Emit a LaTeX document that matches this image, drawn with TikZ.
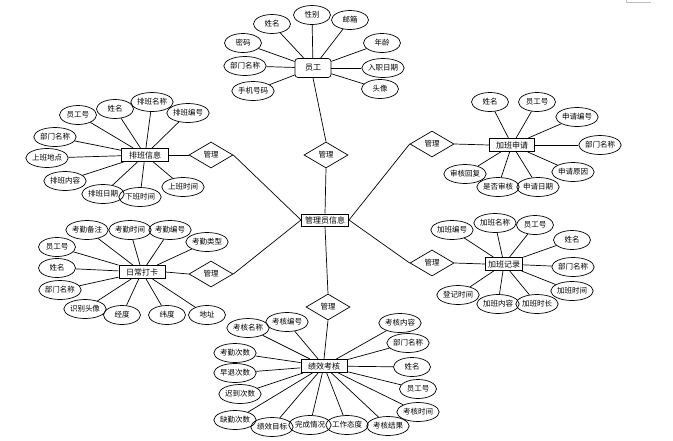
\documentclass[tikz,border=0pt]{standalone}
\usepackage{fontspec}
\setmainfont{Noto Sans CJK SC}
\usetikzlibrary{shapes.geometric}
\begin{document}
\begin{tikzpicture}[x=1pt,y=-1pt,
  attr/.style={ellipse,draw,line width=0.7pt,minimum width=37pt,minimum height=19pt,inner sep=0pt,font=\fontsize{7.5}{8}\selectfont},
  ent/.style={rectangle,draw,line width=1pt,minimum height=13pt,inner sep=1.5pt,font=\fontsize{8}{9}\selectfont},
  rel/.style={diamond,draw,line width=0.7pt,minimum width=44pt,minimum height=26pt,inner sep=0pt,font=\fontsize{7.5}{8}\selectfont},
  ln/.style={line width=0.7pt}]
\useasboundingbox (0,0) rectangle (673,440);
\draw[black!25,line width=0.6pt] (626,0) -- (626,2) -- (651,2);

% central entity
\node[ent,minimum width=47pt,minimum height=12pt] (admin) at (325,220) {管理员信息};

% relationships
\node[rel] (r1) at (326,155) {管理};
\node[rel] (r2) at (211,155) {管理};
\node[rel] (r3) at (432,144) {管理};
\node[rel] (r4) at (211,274) {管理};
\node[rel] (r5) at (432,263) {管理};
\node[rel] (r6) at (328,307) {管理};

% entities
\node[ent,line width=0.7pt,rounded corners=3pt,minimum width=36pt,minimum height=19pt] (e1) at (313,68) {员工};
\node[ent,minimum width=47pt] (e2) at (145,155) {排班信息};
\node[ent,minimum width=45pt] (e3) at (512,145) {加班申请};
\node[ent,minimum width=46pt] (e4) at (142,272) {日常打卡};
\node[ent,minimum width=37pt] (e5) at (504,264) {加班记录};
\node[ent,minimum width=46pt] (e6) at (324,366) {绩效考核};

% admin connections
\draw[ln] (admin.north) -- (r1.south);
\draw[ln] (r1.north) -- (e1.south);
\draw[ln] (admin.west) -- (r2.east);
\draw[ln] (r2.west) -- (e2.east);
\draw[ln] (admin.east) -- (r3.west);
\draw[ln] (r3.east) -- (e3.west);
\draw[ln] (admin.west) -- (r4.east);
\draw[ln] (r4.west) -- (e4.east);
\draw[ln] (admin.east) -- (r5.west);
\draw[ln] (r5.east) -- (e5.west);
\draw[ln] (admin.south) -- (r6.north);
\draw[ln] (r6.south) -- (e6.north);

% 员工 attributes
\node[attr] (a1) at (272,24) {姓名};
\node[attr] (a2) at (312,15) {性别};
\node[attr] (a3) at (350,20) {邮箱};
\node[attr] (a4) at (243,43) {密码};
\node[attr] (a5) at (245,66) {部门名称};
\node[attr] (a6) at (253,91) {手机号码};
\node[attr] (a7) at (382,43) {年龄};
\node[attr] (a8) at (383,68) {入职日期};
\node[attr] (a9) at (380,89) {头像};
\foreach \i in {1,...,9} \draw[ln] (e1) -- (a\i);

% 排班信息 attributes
\node[attr] (b1) at (78,115) {员工号};
\node[attr] (b2) at (115,109) {姓名};
\node[attr] (b3) at (152,102) {排班名称};
\node[attr] (b4) at (188,113) {排班编号};
\node[attr] (b5) at (55,137) {部门名称};
\node[attr] (b6) at (47,158) {上班地点};
\node[attr] (b7) at (65,181) {排班内容};
\node[attr] (b8) at (103,194) {排班日期};
\node[attr] (b9) at (140,197) {下班时间};
\node[attr] (b10) at (183,187) {上班时间};
\foreach \i in {1,...,10} \draw[ln] (e2) -- (b\i);

% 加班申请 attributes
\node[attr] (c1) at (490,102) {姓名};
\node[attr] (c2) at (537,102) {员工号};
\node[attr] (c3) at (577,117) {申请编号};
\node[attr] (c4) at (600,145) {部门名称};
\node[attr] (c5) at (573,172) {申请原因};
\node[attr] (c6) at (538,187) {申请日期};
\node[attr] (c7) at (498,187) {是否审核};
\node[attr] (c8) at (465,174) {审核回复};
\foreach \i in {1,...,8} \draw[ln] (e3) -- (c\i);

% 日常打卡 attributes
\node[attr] (d1) at (87,230) {考勤备注};
\node[attr] (d2) at (130,230) {考勤时间};
\node[attr] (d3) at (170,230) {考勤编号};
\node[attr] (d4) at (207,242) {考勤类型};
\node[attr] (d5) at (57,247) {员工号};
\node[attr] (d6) at (57,268) {姓名};
\node[attr] (d7) at (60,290) {部门名称};
\node[attr] (d8) at (85,309) {识别头像};
\node[attr] (d9) at (122,315) {经度};
\node[attr] (d10) at (167,315) {纬度};
\node[attr] (d11) at (207,315) {地址};
\foreach \i in {1,...,11} \draw[ln] (e4) -- (d\i);

% 加班记录 attributes
\node[attr] (f1) at (452,230) {加班编号};
\node[attr] (f2) at (495,223) {加班名称};
\node[attr] (f3) at (535,225) {员工号};
\node[attr] (f4) at (572,240) {姓名};
\node[attr] (f5) at (573,267) {部门名称};
\node[attr] (f6) at (572,291) {加班时间};
\node[attr] (f7) at (537,304) {加班时长};
\node[attr] (f8) at (498,304) {加班内容};
\node[attr] (f9) at (458,295) {登记时间};
\foreach \i in {1,...,9} \draw[ln] (e5) -- (f\i);

% 绩效考核 attributes
\node[attr] (g1) at (248,328) {考核名称};
\node[attr] (g2) at (287,322) {考核编号};
\node[attr] (g3) at (235,353) {考勤次数};
\node[attr] (g4) at (235,373) {早退次数};
\node[attr] (g5) at (240,394) {迟到次数};
\node[attr] (g6) at (235,420) {缺勤次数};
\node[attr] (g7) at (272,427) {绩效目标};
\node[attr] (g8) at (310,425) {完成情况};
\node[attr] (g9) at (347,425) {工作态度};
\node[attr] (g10) at (388,426) {考核结果};
\node[attr] (g11) at (418,412) {考核时间};
\node[attr] (g12) at (418,389) {员工号};
\node[attr] (g13) at (412,367) {姓名};
\node[attr] (g14) at (408,343) {部门名称};
\node[attr] (g15) at (400,323) {考核内容};
\foreach \i in {1,...,15} \draw[ln] (e6) -- (g\i);
\end{tikzpicture}
\end{document}
